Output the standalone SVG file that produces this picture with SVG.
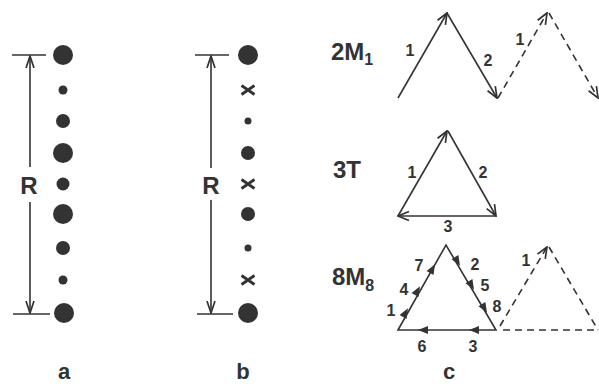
<svg xmlns="http://www.w3.org/2000/svg" width="599" height="386" viewBox="0 0 599 386">
<style>
text{font-family:"Liberation Sans",Arial,sans-serif;font-weight:bold;fill:#333}
.ln{stroke:#333;stroke-width:1.6;fill:none}
.ds{stroke:#333;stroke-width:1.6;fill:none;stroke-dasharray:7,5}
.dot{fill:#333}
.big{font-size:24px}
.num{font-size:16px}
.lab{font-size:22px}
.R{font-size:24px}
</style>
<defs>
<marker id="chev" viewBox="0 0 13 12" refX="12" refY="6" markerWidth="13" markerHeight="12" markerUnits="userSpaceOnUse" orient="auto">
<path d="M1,1.5 L12,6 L1,10.5" fill="none" stroke="#333" stroke-width="1.7"/>
</marker>
<marker id="dim" viewBox="0 0 13 10" refX="12" refY="5" markerWidth="13" markerHeight="10" markerUnits="userSpaceOnUse" orient="auto">
<path d="M0,1 L12,5 L0,9" fill="none" stroke="#333" stroke-width="1.7"/>
</marker>
<path id="fa" d="M2,0 L-8,-4 L-8,4 Z" fill="#333"/>
<path id="x" d="M-6.5,-4.5 L6.5,4.5 M-6.5,4.5 L6.5,-4.5" stroke="#333" stroke-width="2.8" fill="none"/>
</defs>
<rect width="599" height="386" fill="#fff"/>

<g id="panel-a">
<line class="ln" x1="12" y1="55" x2="46" y2="55"/>
<line class="ln" x1="13" y1="314" x2="50" y2="314"/>
<g id="connectors-a">
<line class="ln" x1="30" y1="167" x2="30" y2="56" marker-end="url(#dim)"/>
<line class="ln" x1="30" y1="202" x2="30" y2="313" marker-end="url(#dim)"/>
</g>
<text class="R" x="29" y="194" text-anchor="middle">R</text>
<circle class="dot" cx="63" cy="55" r="10"/>
<circle class="dot" cx="63" cy="90" r="4.5"/>
<circle class="dot" cx="63" cy="121" r="7"/>
<circle class="dot" cx="63" cy="153" r="10"/>
<circle class="dot" cx="63" cy="184" r="6.5"/>
<circle class="dot" cx="63" cy="214" r="10"/>
<circle class="dot" cx="63" cy="248" r="7"/>
<circle class="dot" cx="63" cy="280" r="4.5"/>
<circle class="dot" cx="64" cy="313" r="10"/>
<text class="lab" x="64" y="379" text-anchor="middle">a</text>
</g>

<g id="panel-b">
<line class="ln" x1="195" y1="55" x2="229" y2="55"/>
<line class="ln" x1="197" y1="314" x2="233" y2="314"/>
<g id="connectors-b">
<line class="ln" x1="211" y1="168" x2="211" y2="56" marker-end="url(#dim)"/>
<line class="ln" x1="211" y1="200" x2="211" y2="313" marker-end="url(#dim)"/>
</g>
<text class="R" x="211" y="194" text-anchor="middle">R</text>
<circle class="dot" cx="248" cy="55" r="10"/>
<use href="#x" x="248" y="90"/>
<circle class="dot" cx="248" cy="121" r="3.5"/>
<circle class="dot" cx="248" cy="153" r="7"/>
<use href="#x" x="248" y="184"/>
<circle class="dot" cx="248" cy="214" r="7"/>
<circle class="dot" cx="248" cy="248" r="3.5"/>
<use href="#x" x="248" y="280"/>
<circle class="dot" cx="248" cy="313" r="10"/>
<text class="lab" x="243" y="379" text-anchor="middle">b</text>
</g>

<g id="panel-c">
<g id="m1">
<text class="big" x="331" y="60">2M<tspan font-size="16" dy="5">1</tspan></text>
<g id="connectors-m1">
<line class="ln" x1="398" y1="98" x2="447" y2="13" marker-end="url(#chev)"/>
<line class="ln" x1="447" y1="13" x2="497" y2="98" marker-end="url(#chev)"/>
<line class="ds" x1="498" y1="98" x2="547" y2="13" marker-end="url(#chev)"/>
<line class="ds" x1="549" y1="13" x2="598" y2="98" marker-end="url(#chev)"/>
</g>
<text class="num" x="410" y="56" text-anchor="middle">1</text>
<text class="num" x="488" y="66" text-anchor="middle">2</text>
<text class="num" x="520" y="45" text-anchor="middle">1</text>
</g>

<g id="t3">
<text class="big" x="333" y="178">3T</text>
<g id="connectors-t3">
<line class="ln" x1="398" y1="216" x2="447" y2="131" marker-end="url(#chev)"/>
<line class="ln" x1="448" y1="131" x2="496" y2="216" marker-end="url(#chev)"/>
<line class="ln" x1="496" y1="216" x2="398" y2="216" marker-end="url(#chev)"/>
</g>
<text class="num" x="412" y="178" text-anchor="middle">1</text>
<text class="num" x="483" y="178" text-anchor="middle">2</text>
<text class="num" x="448" y="232" text-anchor="middle">3</text>
</g>

<g id="m8">
<text class="big" x="332" y="285">8M<tspan font-size="16" dy="6">8</tspan></text>
<g id="connectors-m8">
<path class="ln" d="M398,330 L446,245 L496,330 Z"/>
<use href="#fa" transform="translate(407,310) rotate(-60.5)"/>
<use href="#fa" transform="translate(419,288) rotate(-60.5)"/>
<use href="#fa" transform="translate(434,266) rotate(-60.5)"/>
<use href="#fa" transform="translate(459,264) rotate(59.5)"/>
<use href="#fa" transform="translate(473,288) rotate(59.5)"/>
<use href="#fa" transform="translate(486,311) rotate(59.5)"/>
<use href="#fa" transform="translate(420,330) rotate(180)"/>
<use href="#fa" transform="translate(471,330) rotate(180)"/>
<line class="ds" x1="500" y1="326" x2="547" y2="247" marker-end="url(#chev)"/>
<line class="ds" x1="549" y1="247" x2="598" y2="330"/>
<line class="ds" x1="503" y1="330" x2="598" y2="330"/>
</g>
<text class="num" x="419" y="271" text-anchor="middle">7</text>
<text class="num" x="404" y="295" text-anchor="middle">4</text>
<text class="num" x="391" y="316" text-anchor="middle">1</text>
<text class="num" x="475" y="270" text-anchor="middle">2</text>
<text class="num" x="485" y="291" text-anchor="middle">5</text>
<text class="num" x="497" y="312" text-anchor="middle">8</text>
<text class="num" x="422" y="352" text-anchor="middle">6</text>
<text class="num" x="473" y="352" text-anchor="middle">3</text>
<text class="num" x="526" y="266" text-anchor="middle">1</text>
</g>
<text class="lab" x="449" y="379" text-anchor="middle">c</text>
</g>
</svg>
